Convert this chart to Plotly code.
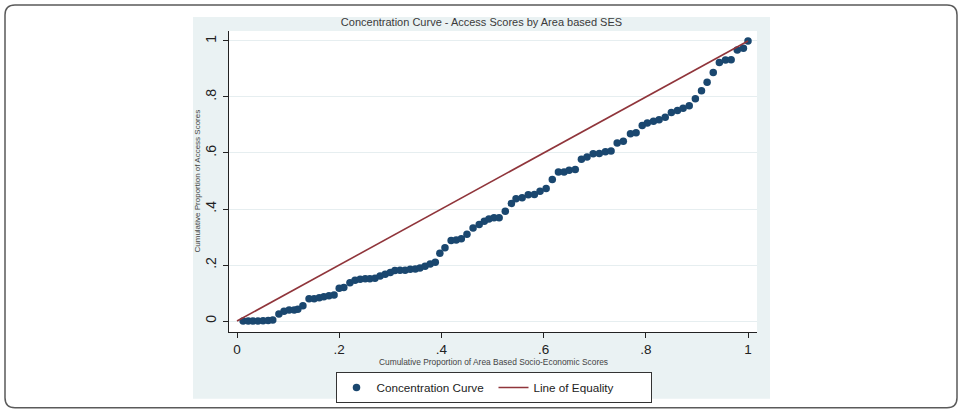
import plotly.graph_objects as go

# ---------------- data ----------------
cc_x = [0.012, 0.022, 0.031, 0.041, 0.051, 0.061, 0.070, 0.082, 0.092, 0.102,
        0.112, 0.119, 0.129, 0.141, 0.151, 0.161, 0.170, 0.180, 0.190, 0.200,
        0.209, 0.221, 0.231, 0.241, 0.251, 0.260, 0.270, 0.280, 0.290, 0.300,
        0.309, 0.319, 0.329, 0.339, 0.349, 0.358, 0.368, 0.378, 0.388, 0.397,
        0.407, 0.419, 0.429, 0.439, 0.450, 0.462, 0.474, 0.484, 0.493, 0.503,
        0.513, 0.525, 0.537, 0.546, 0.558, 0.570, 0.582, 0.593, 0.605, 0.617,
        0.629, 0.640, 0.650, 0.662, 0.674, 0.685, 0.697, 0.709, 0.721, 0.732,
        0.744, 0.756, 0.770, 0.781, 0.793, 0.803, 0.815, 0.826, 0.838, 0.850,
        0.862, 0.873, 0.885, 0.897, 0.909, 0.920, 0.932, 0.944, 0.956, 0.967,
        0.979, 0.991, 1.000]
cc_y = [0.000, 0.000, 0.000, 0.000, 0.001, 0.002, 0.004, 0.025, 0.035, 0.039,
        0.039, 0.042, 0.055, 0.080, 0.080, 0.083, 0.087, 0.090, 0.093, 0.117,
        0.120, 0.137, 0.146, 0.149, 0.151, 0.151, 0.153, 0.161, 0.167, 0.173,
        0.180, 0.181, 0.181, 0.185, 0.186, 0.189, 0.196, 0.204, 0.210, 0.242,
        0.262, 0.288, 0.289, 0.294, 0.310, 0.332, 0.345, 0.356, 0.364, 0.369,
        0.369, 0.392, 0.420, 0.437, 0.440, 0.451, 0.452, 0.463, 0.473, 0.505,
        0.532, 0.532, 0.538, 0.541, 0.578, 0.586, 0.597, 0.598, 0.604, 0.607,
        0.636, 0.642, 0.669, 0.672, 0.698, 0.707, 0.713, 0.719, 0.728, 0.745,
        0.752, 0.760, 0.769, 0.794, 0.822, 0.853, 0.887, 0.923, 0.932, 0.933,
        0.968, 0.974, 1.000]
eq_x = [0, 1]
eq_y = [0, 1]
tick_vals = [0, 0.2, 0.4, 0.6, 0.8, 1]
tick_text = ["0", ".2", ".4", ".6", ".8", "1"]

TITLE = "Concentration Curve - Access Scores by Area based SES"
XTITLE = "Cumulative Proportion of Area Based Socio-Economic Scores"
YTITLE = "Cumulative Proportion of Access Scores"

# ---------------- layout geometry (pixels) ----------------
W, H = 963, 414
L, R, T, B = 229, 757, 31, 333
PW, PH = R - L, B - T

def px(x):
    return (x - L) / PW

def py(y):
    return (B - y) / PH

FONT = "Liberation Sans, Arial, Helvetica, sans-serif"

fig = go.Figure()
fig.add_trace(go.Scatter(
    x=cc_x, y=cc_y, mode="markers", name="Concentration Curve",
    marker=dict(color="#1a476f", size=7.5, line=dict(width=0)),
))
fig.add_trace(go.Scatter(
    x=eq_x, y=eq_y, mode="lines", name="Line of Equality",
    line=dict(color="#90353b", width=1.6),
))

# rounded outer frame
x0, x1, y0, y1 = px(5), px(957), py(409), py(5)
rx, ry = 10 / PW, 10 / PH
frame_path = (
    f"M {x0+rx},{y1} L {x1-rx},{y1} Q {x1},{y1} {x1},{y1-ry} "
    f"L {x1},{y0+ry} Q {x1},{y0} {x1-rx},{y0} "
    f"L {x0+rx},{y0} Q {x0},{y0} {x0},{y0+ry} "
    f"L {x0},{y1-ry} Q {x0},{y1} {x0+rx},{y1} Z"
)

shapes = [
    dict(type="path", xref="paper", yref="paper", path=frame_path,
         line=dict(color="#5a5a5a", width=1.5), fillcolor="rgba(0,0,0,0)", layer="below"),
    dict(type="rect", xref="paper", yref="paper",
         x0=px(193), x1=px(770), y0=py(400), y1=py(17),
         fillcolor="#eaf2f3", line=dict(width=0), layer="below"),
    dict(type="rect", xref="paper", yref="paper", x0=0, x1=1, y0=0, y1=1,
         fillcolor="white", line=dict(width=0), layer="below"),
]

annotations = [
    dict(text=YTITLE, xref="paper", yref="paper", x=px(197), y=0.5,
         textangle=-90, showarrow=False, xanchor="center", yanchor="middle",
         font=dict(family=FONT, size=8, color="#444444")),
    dict(text=XTITLE, xref="paper", yref="paper", x=0.5, y=py(363.5),
         showarrow=False, xanchor="center", yanchor="middle",
         font=dict(family=FONT, size=8.4, color="#444444")),
]

fig.update_layout(
    width=W, height=H,
    margin=dict(l=L, r=W - R, t=T, b=H - B, pad=0),
    paper_bgcolor="white",
    plot_bgcolor="rgba(0,0,0,0)",
    title=dict(text=TITLE, x=481.5 / W, xref="container", xanchor="center",
               y=1 - 22 / H, yref="container", yanchor="middle",
               font=dict(family=FONT, size=11, color="#3a3a3a")),
    shapes=shapes,
    annotations=annotations,
    showlegend=True,
    legend=dict(orientation="h", x=px(493.5), xanchor="center",
                y=py(372), yanchor="top",
                bgcolor="white", bordercolor="#333333", borderwidth=1,
                font=dict(family=FONT, size=11.7, color="#222222"),
                entrywidth=112, entrywidthmode="pixels",
                traceorder="normal"),
    xaxis=dict(range=[-8 / 511, 1 + 9 / 511], tickvals=tick_vals, ticktext=tick_text,
               showgrid=False, zeroline=False, showline=True, linecolor="#222222",
               linewidth=1, ticks="outside", ticklen=5, tickcolor="#222222",
               ticklabelstandoff=0,
               tickfont=dict(family=FONT, size=13.5, color="#222222")),
    yaxis=dict(range=[-11 / 281, 1 + 10 / 281], tickvals=tick_vals, ticktext=tick_text,
               showgrid=True, gridcolor="#e6eef0", gridwidth=1,
               zeroline=False, showline=True, linecolor="#222222",
               linewidth=1, ticks="outside", ticklen=5, tickcolor="#222222",
               tickangle=-90, ticklabelstandoff=1,
               tickfont=dict(family=FONT, size=14, color="#222222")),
)

fig.write_html("out.html")
